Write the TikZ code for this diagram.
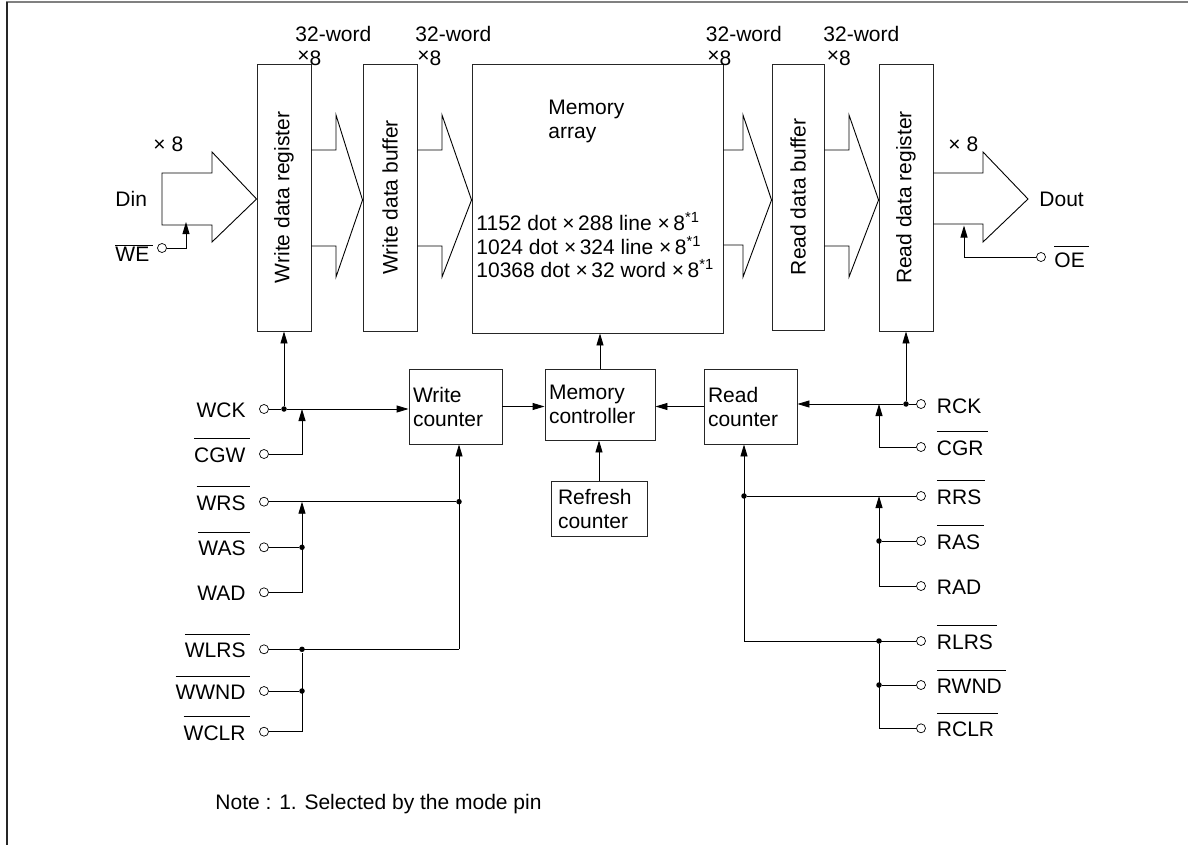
\documentclass[tikz,border=0pt]{standalone}
\usepackage{fontspec}
\setmainfont{Liberation Sans}
\usetikzlibrary{arrows.meta}
\newcommand\ovl[2][8.5pt]{\setbox0\hbox{#2}\rlap{\rule[\dimexpr\ht0+#1\relax]{\dimexpr\wd0+4pt\relax}{0.8pt}}#2}
\newcommand\smx{\raisebox{3pt}{×}8}
\begin{document}
\begin{tikzpicture}[x=1pt,y=-1pt,line width=0.9pt,
  every node/.style={font=\fontsize{21}{24}\selectfont,inner sep=0pt},
  box/.style={draw=black!85,rectangle},
  arr/.style={-{Triangle[length=12pt,width=7pt]}},
  dot/.style={circle,fill=black,minimum size=5.5pt},
  pin/.style={circle,draw,fill=white,minimum size=9pt,line width=0.7pt},
  lblL/.style={anchor=base east},
  lblR/.style={anchor=base west}]
\useasboundingbox (0,0) rectangle (1188,845);
\draw[black!50,line width=2pt] (6,2.5) -- (1188,2.5);
\draw[black!85,line width=2pt] (6.5,2.5) -- (6.5,845);

% data path blocks
\node[box,minimum width=54pt,minimum height=267pt,label={[rotate=90]center:Write data register}] (wdr) at (284,197.5) {};
\node[box,minimum width=54pt,minimum height=267pt,label={[rotate=90]center:Write data buffer}] (wdb) at (390,197.5) {};
\node[box,minimum width=251pt,minimum height=269pt] (mem) at (597.5,198.5) {};
\node[box,minimum width=52pt,minimum height=266pt,label={[rotate=90]center:Read data buffer}] (rdb) at (798,197) {};
\node[box,minimum width=54pt,minimum height=267pt,label={[rotate=90]center:Read data register}] (rdr) at (906,197.5) {};

% memory array texts
\node[anchor=west,align=left] (memlbl) at (548,121) {Memory\\array};
\node[anchor=base west] (m1) at (476,230) {1152 dot ×\,288 line ×\,8\textsuperscript{*1}};
\node[anchor=base west] (m2) at (476,254) {1024 dot ×\,324 line ×\,8\textsuperscript{*1}};
\node[anchor=base west] (m3) at (476,277.5) {10368 dot ×\,32 word ×\,8\textsuperscript{*1}};

% 32-word labels
\node[anchor=base west] (w1) at (295,42) {32-word};
\node[anchor=base west] (x1) at (297,66) {\smx};
\node[anchor=base west] (w2) at (415,42) {32-word};
\node[anchor=base west] (x2) at (417,66) {\smx};
\node[anchor=base west] (w3) at (705.5,42) {32-word};
\node[anchor=base west] (x3) at (707,66) {\smx};
\node[anchor=base west] (w4) at (823,42) {32-word};
\node[anchor=base west] (x4) at (826.5,66) {\smx};

% wide bus arrows
\draw (162,173) -- (212,173) -- (212,152) -- (wdr.west |- 0,199) -- (212,242) -- (212,225) -- (162,225) -- cycle;
\draw (wdr.east |- 0,150) -| (336,115) -- (wdb.west |- 0,200) -- (336,277) |- (wdr.east |- 0,246);
\draw (wdb.east |- 0,150) -| (442,115) -- (mem.west |- 0,200) -- (442,277) |- (wdb.east |- 0,246);
\draw (mem.east |- 0,150) -| (743,115) -- (rdb.west |- 0,200) -- (743,277) |- (mem.east |- 0,245);
\draw (rdb.east |- 0,150) -| (849,115) -- (rdr.west |- 0,200) -- (849,277) |- (rdb.east |- 0,246);
\draw (rdr.east |- 0,173) -| (983,152) -- (1028,199) -- (983,242) |- (rdr.east |- 0,224);

\node[anchor=base west] (x8in) at (153,151.5) {× 8};
\node[anchor=base west] (din) at (115,206.5) {Din};
\node[anchor=base west] (x8out) at (948,151.5) {× 8};
\node[anchor=base west] (dout) at (1039,206.5) {Dout};

% WE / OE
\node[pin] (we) at (162,248) {};
\node[anchor=base west] (welbl) at (115,261.5) {\ovl[1.5pt]{WE}};
\draw[arr] (we.east) -| (186,222);
\node[pin] (oe) at (1041,257) {};
\node[anchor=base west] (oelbl) at (1054,267.5) {\ovl[6pt]{OE}};
\draw[arr] (oe.west) -| (964,225.5);

% control blocks
\node[box,minimum width=93pt,minimum height=75pt,text width=85pt,inner xsep=4pt,align=left] (wc) at (455.5,406.5) {Write\\counter};
\node[box,minimum width=110pt,minimum height=71pt,text width=102pt,inner xsep=4pt,align=left] (mc) at (600,404.5) {Memory\\controller};
\node[box,minimum width=96pt,minimum height=55pt,text width=82pt,inner xsep=7pt,align=left] (rf) at (599,508.5) {\raisebox{-3pt}{Refresh}\\\raisebox{-3pt}{counter}};
\node[box,minimum width=93pt,minimum height=75pt,text width=85pt,inner xsep=4pt,align=left] (rc) at (750.5,406.5) {Read\\counter};

\draw[arr] (wc.east) -- (wc.east -| mc.west);
\draw[arr] (rc.west) -- (rc.west -| mc.east);
\draw[arr] (mc.north) -- (mc.north |- mem.south);
\draw[arr] (rf.north) -- (rf.north |- mc.south);

% left pins
\node[pin] (wck) at (264,409) {};
\node[pin] (cgw) at (264,454) {};
\node[pin] (wrs) at (264,501.7) {};
\node[pin] (was) at (264,547.3) {};
\node[pin] (wad) at (264,592.3) {};
\node[pin] (wlrs) at (264,649.3) {};
\node[pin] (wwnd) at (264,691) {};
\node[pin] (wclr) at (264,731.7) {};
\node[lblL] (lwck) at ([xshift=-18pt,yshift=-8.3pt]wck.center) {WCK};
\node[lblL] (lcgw) at ([xshift=-18pt,yshift=-8.3pt]cgw.center) {\ovl{CGW}};
\node[lblL] (lwrs) at ([xshift=-18pt,yshift=-8.3pt]wrs.center) {\ovl{WRS}};
\node[lblL] (lwas) at ([xshift=-18pt,yshift=-8.3pt]was.center) {\ovl{WAS}};
\node[lblL] (lwad) at ([xshift=-18pt,yshift=-8.3pt]wad.center) {WAD};
\node[lblL] (lwlrs) at ([xshift=-18pt,yshift=-8.3pt]wlrs.center) {\ovl{WLRS}};
\node[lblL] (lwwnd) at ([xshift=-18pt,yshift=-8.3pt]wwnd.center) {\ovl{WWND}};
\node[lblL] (lwclr) at ([xshift=-18pt,yshift=-8.3pt]wclr.center) {\ovl{WCLR}};

\coordinate (xw) at (302,0);
\coordinate (xwv) at (459,0);
\node[dot] (jwck) at (wdr.south |- wck.center) {};
\draw (wck) -- (jwck);
\draw[arr] (jwck) -- (wdr.south);
\draw[arr] (jwck) -- (jwck -| wc.west);
\draw[arr] (cgw.east) -| (xw |- wck.center);
\node[dot] (jwrs) at (xwv |- wrs.center) {};
\draw (wrs) -- (jwrs);
\draw[arr] (xwv |- wlrs.center) -- (xwv |- wc.south);
\node[dot] (jwas) at (xw |- was.center) {};
\draw (was) -- (jwas);
\draw[arr] (wad.east) -| (xw |- wrs.center);
\node[dot] (jwlrs) at (xw |- wlrs.center) {};
\draw (wlrs) -- (xwv |- wlrs.center);
\node[dot] (jwwnd) at (xw |- wwnd.center) {};
\draw (wwnd) -- (jwwnd);
\draw (wclr.east) -| (jwlrs);

% right pins
\node[pin] (rck) at (921,404) {};
\node[pin] (cgr) at (921,447) {};
\node[pin] (rrs) at (921,496) {};
\node[pin] (ras) at (921,541) {};
\node[pin] (rad) at (921,586) {};
\node[pin] (rlrs) at (921,641) {};
\node[pin] (rwnd) at (921,685) {};
\node[pin] (rclr) at (921,728.3) {};
\node[lblR] (lrck) at ([xshift=15.5pt,yshift=-9pt]rck.center) {RCK};
\node[lblR] (lcgr) at ([xshift=15.5pt,yshift=-8.3pt]cgr.center) {\ovl{CGR}};
\node[lblR] (lrrs) at ([xshift=15.5pt,yshift=-8.3pt]rrs.center) {\ovl{RRS}};
\node[lblR] (lras) at ([xshift=15.5pt,yshift=-8.3pt]ras.center) {\ovl{RAS}};
\node[lblR] (lrad) at ([xshift=15.5pt,yshift=-8.3pt]rad.center) {RAD};
\node[lblR] (lrlrs) at ([xshift=15.5pt,yshift=-8.3pt]rlrs.center) {\ovl{RLRS}};
\node[lblR] (lrwnd) at ([xshift=15.5pt,yshift=-8.3pt]rwnd.center) {\ovl{RWND}};
\node[lblR] (lrclr) at ([xshift=15.5pt,yshift=-8.3pt]rclr.center) {\ovl{RCLR}};

\coordinate (xr) at (879,0);
\coordinate (xrv) at (744,0);
\node[dot] (jrck) at (rdr.south |- rck.center) {};
\draw (rck) -- (jrck);
\draw[arr] (jrck) -- (rdr.south);
\draw[arr] (jrck) -- (jrck -| rc.east);
\draw[arr] (cgr.west) -| (xr |- rck.center);
\node[dot] (jrrs) at (xrv |- rrs.center) {};
\draw (rrs) -- (jrrs);
\draw[arr] (xrv |- rlrs.center) -- (xrv |- rc.south);
\node[dot] (jras) at (xr |- ras.center) {};
\draw (ras) -- (jras);
\draw[arr] (rad.west) -| (xr |- rrs.center);
\node[dot] (jrlrs) at (xr |- rlrs.center) {};
\draw (rlrs) -- (xrv |- rlrs.center);
\node[dot] (jrwnd) at (xr |- rwnd.center) {};
\draw (rwnd) -- (jrwnd);
\draw (rclr.west) -| (jrlrs);

\node[anchor=base west] (note) at (215,809.5) {Note : 1. Selected by the mode pin};
\end{tikzpicture}
\end{document}
